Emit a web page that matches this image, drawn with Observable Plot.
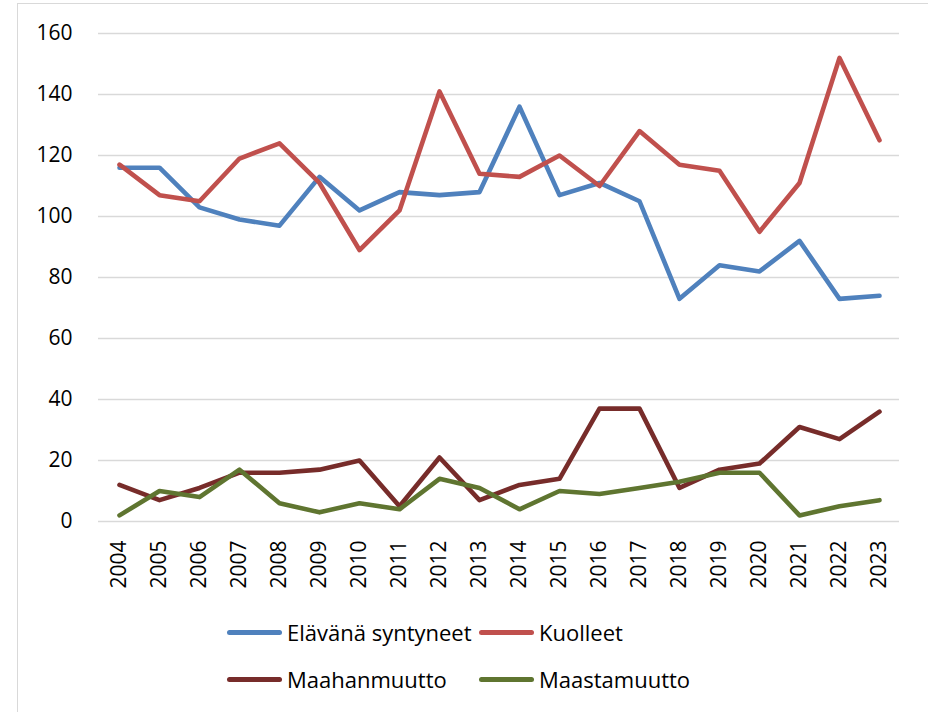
<!DOCTYPE html>
<html>
<head>
<meta charset="utf-8">
<script src="https://cdn.jsdelivr.net/npm/d3@7"></script>
<script src="https://cdn.jsdelivr.net/npm/@observablehq/plot@0.6"></script>
<style>
  html, body { margin: 0; padding: 0; background: #fff; }
  #wrap { position: relative; width: 928px; height: 712px; overflow: hidden; font-family: "Open Sans", sans-serif; }
  #frame { position: absolute; left: 17px; top: 3px; width: 920px; height: 730px; border: 1.5px solid #d9d9d9; box-sizing: border-box; }
  #chart { position: absolute; left: 0; top: 0; }
  .leg { position: absolute; display: flex; align-items: center; font-size: 22px; color: #000; white-space: nowrap; }
  .leg .sw { width: 55px; height: 5px; border-radius: 3px; margin-right: 5px; }
</style>
</head>
<body>
<div id="wrap">
  <div id="frame"></div>
  <div id="chart"></div>
  <div id="legend"></div>
</div>
<script>
const years = ["2004","2005","2006","2007","2008","2009","2010","2011","2012","2013","2014","2015","2016","2017","2018","2019","2020","2021","2022","2023"];
const seriesNames = ["Elävänä syntyneet", "Kuolleet", "Maahanmuutto", "Maastamuutto"];
const seriesColors = ["#4f81bd", "#c0504d", "#772c2a", "#5f7530"];
const elavana = [116,116,103,99,97,113,102,108,107,108,136,107,111,105,73,84,82,92,73,74];
const kuolleet = [117,107,105,119,124,111,89,102,141,114,113,120,110,128,117,115,95,111,152,125];
const maahanmuutto = [12,7,11,16,16,17,20,5,21,7,12,14,37,37,11,17,19,31,27,36];
const maastamuutto = [2,10,8,17,6,3,6,4,14,11,4,10,9,11,13,16,16,2,5,7];
const yTicks = [0,20,40,60,80,100,120,140,160];

const seriesValues = [elavana, kuolleet, maahanmuutto, maastamuutto];
const rows = [];
seriesNames.forEach((name, s) => {
  years.forEach((yr, i) => rows.push({series: name, year: yr, value: seriesValues[s][i]}));
});

const chart = Plot.plot({
  width: 928,
  height: 600,
  marginLeft: 98,
  marginRight: 29,
  marginTop: 33,
  marginBottom: 79,
  style: { fontFamily: "Open Sans, sans-serif", fontSize: "21px", color: "#000", background: "transparent" },
  x: { type: "point", domain: years, padding: 0.5, label: null, tickSize: 0, tickPadding: 19, tickRotate: -90 },
  y: { domain: [0, 160], ticks: yTicks, label: null, tickSize: 0, tickPadding: 26 },
  color: { domain: seriesNames, range: seriesColors },
  marks: [
    Plot.gridY(yTicks, { stroke: "#d9d9d9", strokeOpacity: 1, strokeWidth: 1.5 }),
    ...seriesNames.map((name, s) =>
      Plot.line(rows.filter(d => d.series === name), {
        x: "year", y: "value", stroke: seriesColors[s], strokeWidth: 4.6,
        strokeLinecap: "round", strokeLinejoin: "round"
      })
    )
  ]
});
document.getElementById("chart").appendChild(chart);

// Legend
const legPos = [
  {left: 227, top: 632},
  {left: 479, top: 632},
  {left: 227, top: 679},
  {left: 479, top: 679}
];
const legend = document.getElementById("legend");
seriesNames.forEach((name, i) => {
  const d = document.createElement("div");
  d.className = "leg";
  d.style.left = legPos[i].left + "px";
  d.style.top = (legPos[i].top - 15) + "px";
  d.style.height = "30px";
  const sw = document.createElement("span");
  sw.className = "sw";
  sw.style.background = seriesColors[i];
  const t = document.createElement("span");
  t.textContent = name;
  d.appendChild(sw);
  d.appendChild(t);
  legend.appendChild(d);
});
</script>
</body>
</html>
